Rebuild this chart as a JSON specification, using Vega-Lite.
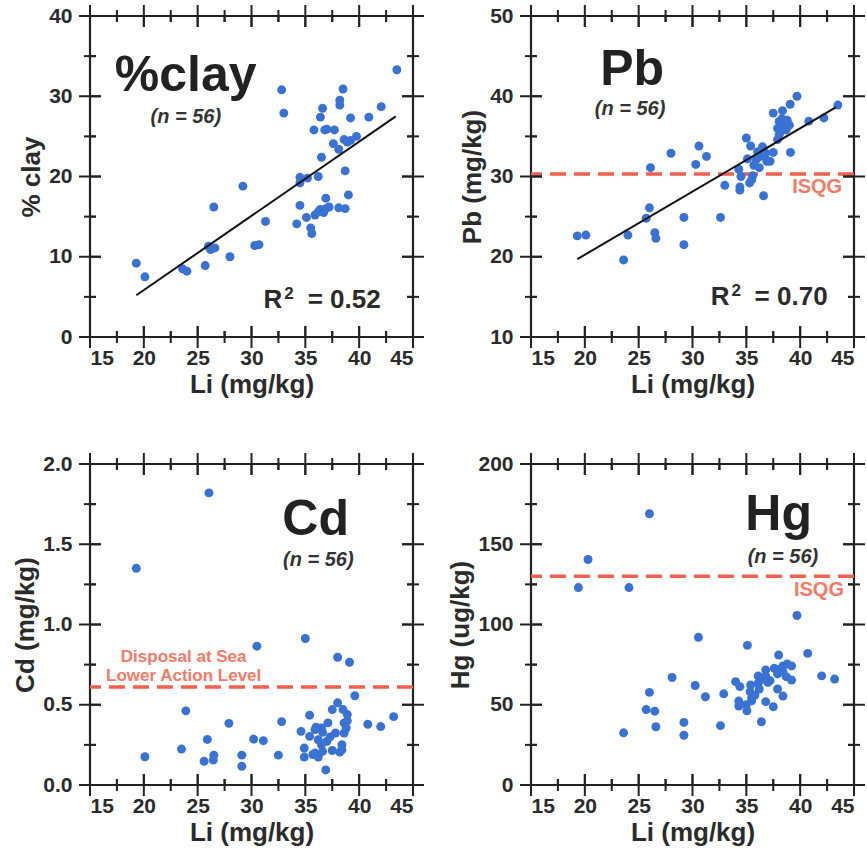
{
  "$schema": "https://vega.github.io/schema/vega-lite/v6.json",
  "background": "white",
  "padding": {"left": 11, "top": 3, "right": 5, "bottom": 5},
  "config": {
    "view": {"stroke": "#222222", "strokeWidth": 2.2},
    "axis": {
      "domain": false, "grid": false, "ticks": false, "tickSize": 0,
      "labelFont": "Liberation Sans", "labelFontWeight": "bold", "labelFontSize": 21, "labelColor": "#2b2b2b",
      "titleFont": "Liberation Sans", "titleFontWeight": "bold", "titleFontSize": 26, "titleColor": "#2b2b2b"
    },
    "tick": {"thickness": 2, "color": "#222222", "opacity": 1, "clip": true},
    "rule": {"color": "#222222", "strokeWidth": 2},
    "text": {"font": "Liberation Sans"}
  },
  "datasets": {
    "xticks": [
      {"t":15,"k":"major"},{"t":17.5,"k":"minor"},{"t":20,"k":"major"},{"t":22.5,"k":"minor"},{"t":25,"k":"major"},
      {"t":27.5,"k":"minor"},{"t":30,"k":"major"},{"t":32.5,"k":"minor"},{"t":35,"k":"major"},{"t":37.5,"k":"minor"},
      {"t":40,"k":"major"},{"t":42.5,"k":"minor"},{"t":45,"k":"major"}
    ],
    "xmaj": [{"t":20},{"t":25},{"t":30},{"t":35},{"t":40}],
    "xmin": [{"t":17.5},{"t":22.5},{"t":27.5},{"t":32.5},{"t":37.5},{"t":42.5}],
    "yclay": [
      {"t":0,"k":"major"},{"t":5,"k":"minor"},{"t":10,"k":"major"},{"t":15,"k":"minor"},{"t":20,"k":"major"},
      {"t":25,"k":"minor"},{"t":30,"k":"major"},{"t":35,"k":"minor"},{"t":40,"k":"major"}
    ],
    "ypb": [
      {"t":10,"k":"major"},{"t":15,"k":"minor"},{"t":20,"k":"major"},{"t":25,"k":"minor"},{"t":30,"k":"major"},
      {"t":35,"k":"minor"},{"t":40,"k":"major"},{"t":45,"k":"minor"},{"t":50,"k":"major"}
    ],
    "ycd": [
      {"t":0,"k":"major"},{"t":0.25,"k":"minor"},{"t":0.5,"k":"major"},{"t":0.75,"k":"minor"},{"t":1,"k":"major"},
      {"t":1.25,"k":"minor"},{"t":1.5,"k":"major"},{"t":1.75,"k":"minor"},{"t":2,"k":"major"}
    ],
    "yhg": [
      {"t":0,"k":"major"},{"t":25,"k":"minor"},{"t":50,"k":"major"},{"t":75,"k":"minor"},{"t":100,"k":"major"},
      {"t":125,"k":"minor"},{"t":150,"k":"major"},{"t":175,"k":"minor"},{"t":200,"k":"major"}
    ],
    "ymaj_clay": [{"t":10},{"t":20},{"t":30}],
    "ymin_clay": [{"t":5},{"t":15},{"t":25},{"t":35}],
    "ymaj_pb": [{"t":20},{"t":30},{"t":40}],
    "ymin_pb": [{"t":15},{"t":25},{"t":35},{"t":45}],
    "ymaj_cd": [{"t":0.5},{"t":1},{"t":1.5}],
    "ymin_cd": [{"t":0.25},{"t":0.75},{"t":1.25},{"t":1.75}],
    "ymaj_hg": [{"t":50},{"t":100},{"t":150}],
    "ymin_hg": [{"t":25},{"t":75},{"t":125},{"t":175}],
    "clay": [
      {"li":19.3,"v":9.2},{"li":20.1,"v":7.5},{"li":23.6,"v":8.5},{"li":24.0,"v":8.2},{"li":25.7,"v":8.9},
      {"li":26.0,"v":11.3},{"li":26.6,"v":11.1},{"li":26.5,"v":16.2},{"li":28.0,"v":10.0},{"li":29.2,"v":18.8},
      {"li":30.3,"v":11.4},{"li":30.7,"v":11.5},{"li":31.3,"v":14.4},{"li":32.8,"v":30.8},{"li":33.0,"v":27.9},
      {"li":43.5,"v":33.3},{"li":38.5,"v":30.9},{"li":38.2,"v":29.5},{"li":38.2,"v":28.9},{"li":36.6,"v":28.5},
      {"li":36.4,"v":27.4},{"li":39.2,"v":27.3},{"li":40.9,"v":27.4},{"li":42.05,"v":28.7},{"li":35.8,"v":25.8},
      {"li":36.8,"v":25.8},{"li":37.7,"v":25.8},{"li":37.6,"v":24.1},{"li":38.6,"v":24.6},{"li":39.2,"v":24.5},
      {"li":39.75,"v":25.0},{"li":38.1,"v":23.4},{"li":36.5,"v":22.4},{"li":38.7,"v":20.7},{"li":34.5,"v":19.9},
      {"li":34.5,"v":19.2},{"li":35.2,"v":19.8},{"li":36.2,"v":20.0},{"li":39.0,"v":17.7},{"li":36.9,"v":17.3},
      {"li":34.5,"v":16.4},{"li":37.2,"v":16.2},{"li":38.1,"v":16.1},{"li":38.7,"v":16.0},{"li":36.2,"v":15.6},
      {"li":36.7,"v":15.5},{"li":35.1,"v":14.9},{"li":34.2,"v":14.1},{"li":35.5,"v":13.6},{"li":35.6,"v":12.9},
      {"li":26.2,"v":10.9},{"li":36.4,"v":15.9},{"li":37.0,"v":25.9},{"li":38.9,"v":24.3},{"li":35.9,"v":15.2},
      {"li":36.9,"v":16.0}
    ],
    "pb": [
      {"li":19.3,"v":22.6},{"li":20.1,"v":22.7},{"li":23.6,"v":19.6},{"li":24.0,"v":22.7},{"li":25.7,"v":24.8},
      {"li":26.0,"v":26.1},{"li":26.1,"v":31.1},{"li":26.5,"v":23.0},{"li":26.6,"v":22.3},{"li":28.0,"v":32.9},
      {"li":29.2,"v":24.9},{"li":29.2,"v":21.5},{"li":30.3,"v":31.5},{"li":30.6,"v":33.8},{"li":31.3,"v":32.5},
      {"li":32.6,"v":24.9},{"li":33.0,"v":28.9},{"li":34.3,"v":30.9},{"li":34.5,"v":30.0},{"li":34.4,"v":28.7},
      {"li":34.4,"v":28.3},{"li":35.0,"v":34.8},{"li":35.4,"v":33.8},{"li":35.1,"v":32.2},{"li":35.3,"v":29.2},
      {"li":35.5,"v":29.6},{"li":35.7,"v":31.4},{"li":35.9,"v":32.1},{"li":36.05,"v":33.1},{"li":36.2,"v":31.1},
      {"li":36.5,"v":33.7},{"li":36.6,"v":27.6},{"li":36.8,"v":32.9},{"li":36.9,"v":31.9},{"li":37.5,"v":33.0},
      {"li":37.5,"v":37.9},{"li":37.9,"v":36.0},{"li":38.05,"v":36.85},{"li":38.05,"v":35.2},{"li":38.2,"v":35.6},
      {"li":38.36,"v":38.2},{"li":38.5,"v":36.6},{"li":38.7,"v":35.8},{"li":39.0,"v":36.4},{"li":39.07,"v":39.0},
      {"li":39.1,"v":33.0},{"li":39.7,"v":40.0},{"li":40.8,"v":36.9},{"li":42.2,"v":37.3},{"li":43.5,"v":38.9},
      {"li":37.2,"v":31.9},{"li":38.3,"v":37.2},{"li":36.3,"v":32.5},{"li":38.8,"v":37.0},{"li":37.9,"v":34.6},
      {"li":35.6,"v":30.1}
    ],
    "cd": [
      {"li":19.3,"v":1.35},{"li":26.05,"v":1.82},{"li":20.1,"v":0.176},{"li":23.5,"v":0.224},{"li":23.9,"v":0.462},
      {"li":25.6,"v":0.148},{"li":25.9,"v":0.284},{"li":26.5,"v":0.186},{"li":26.45,"v":0.155},{"li":27.9,"v":0.384},
      {"li":29.1,"v":0.186},{"li":29.1,"v":0.117},{"li":30.2,"v":0.286},{"li":31.1,"v":0.276},{"li":30.5,"v":0.865},
      {"li":32.5,"v":0.186},{"li":32.8,"v":0.395},{"li":35.0,"v":0.913},{"li":38.0,"v":0.796},{"li":39.1,"v":0.765},
      {"li":39.6,"v":0.556},{"li":40.8,"v":0.378},{"li":42.0,"v":0.364},{"li":43.2,"v":0.426},{"li":38.0,"v":0.512},
      {"li":37.5,"v":0.470},{"li":38.5,"v":0.470},{"li":38.9,"v":0.439},{"li":35.4,"v":0.435},{"li":38.6,"v":0.387},
      {"li":38.8,"v":0.355},{"li":37.1,"v":0.387},{"li":36.5,"v":0.355},{"li":34.6,"v":0.334},{"li":35.9,"v":0.345},
      {"li":35.4,"v":0.303},{"li":36.6,"v":0.328},{"li":37.8,"v":0.324},{"li":38.6,"v":0.324},{"li":36.2,"v":0.282},
      {"li":37.0,"v":0.272},{"li":36.5,"v":0.251},{"li":38.4,"v":0.251},{"li":34.9,"v":0.230},{"li":35.9,"v":0.199},
      {"li":36.6,"v":0.209},{"li":37.5,"v":0.215},{"li":38.4,"v":0.219},{"li":34.9,"v":0.174},{"li":36.2,"v":0.174},
      {"li":36.9,"v":0.094},{"li":38.2,"v":0.205},{"li":36.0,"v":0.36},{"li":37.3,"v":0.30},{"li":35.7,"v":0.19},
      {"li":38.9,"v":0.40}
    ],
    "hg": [
      {"li":19.4,"v":123},{"li":20.3,"v":140.5},{"li":24.1,"v":123},{"li":26.0,"v":169},{"li":23.6,"v":32.5},
      {"li":25.7,"v":47},{"li":26.0,"v":57.7},{"li":26.5,"v":46},{"li":26.6,"v":36.3},{"li":28.1,"v":67},
      {"li":29.2,"v":39},{"li":29.2,"v":31},{"li":30.25,"v":62},{"li":30.55,"v":92},{"li":31.2,"v":55},
      {"li":32.6,"v":37},{"li":32.9,"v":56.8},{"li":35.1,"v":87},{"li":39.7,"v":105.6},{"li":40.7,"v":82},
      {"li":42.0,"v":68},{"li":43.2,"v":66},{"li":38.0,"v":81},{"li":38.8,"v":75.4},{"li":39.2,"v":74.2},
      {"li":38.4,"v":74.2},{"li":37.6,"v":72.7},{"li":36.8,"v":71.7},{"li":36.1,"v":67.9},{"li":36.8,"v":67.9},
      {"li":37.9,"v":69.2},{"li":38.4,"v":70.6},{"li":39.2,"v":65.4},{"li":38.7,"v":67.5},{"li":34.0,"v":64.4},
      {"li":34.4,"v":61.3},{"li":35.4,"v":62.3},{"li":36.1,"v":63.3},{"li":37.0,"v":63.9},{"li":35.35,"v":58.1},
      {"li":36.2,"v":59.8},{"li":37.9,"v":59.8},{"li":38.4,"v":55.4},{"li":35.5,"v":54.4},{"li":34.3,"v":52.3},
      {"li":34.3,"v":49.2},{"li":35.5,"v":52.5},{"li":36.8,"v":51.9},{"li":37.5,"v":48.75},{"li":35.05,"v":46.25},
      {"li":36.4,"v":39.4},{"li":36.5,"v":66},{"li":35.8,"v":56},{"li":38.1,"v":72},{"li":37.2,"v":65},
      {"li":35.0,"v":50}
    ]
  },
  "columns": 2,
  "spacing": {"row": 127, "column": 118},
  "bounds": "flush",
  "concat": [
    {
      "width": 323, "height": 321,
      "resolve": {"axis": {"x": "independent", "y": "independent"}},
      "layer": [
        {
          "data": {"name": "clay"},
          "mark": {"type": "circle", "size": 80, "color": "#3a72d4", "opacity": 1},
          "encoding": {
            "x": {"field": "li", "type": "quantitative", "scale": {"domain": [15, 45], "nice": false, "zero": false},
              "axis": {"orient": "bottom", "title": "Li (mg/kg)", "values": [15,20,25,30,35,40,45], "labelPadding": 10, "titlePadding": 3}},
            "y": {"field": "v", "type": "quantitative", "scale": {"domain": [0, 40], "nice": false, "zero": false},
              "axis": {"orient": "left", "title": "% clay", "values": [0,10,20,30,40], "labelPadding": 18, "titlePadding": 4}}
          }
        },
        {"data": {"name": "xmaj"}, "mark": "rule", "encoding": {"x": {"field": "t", "type": "quantitative", "axis": null}, "y": {"datum": 0, "axis": null}, "y2": {"datum": 1.37}}},
        {"data": {"name": "xmin"}, "mark": "rule", "encoding": {"x": {"field": "t", "type": "quantitative", "axis": null}, "y": {"datum": 0, "axis": null}, "y2": {"datum": 0.75}}},
        {"data": {"name": "xmaj"}, "mark": "rule", "encoding": {"x": {"field": "t", "type": "quantitative", "axis": null}, "y": {"datum": 40, "axis": null}, "y2": {"datum": 38.63}}},
        {"data": {"name": "xmin"}, "mark": "rule", "encoding": {"x": {"field": "t", "type": "quantitative", "axis": null}, "y": {"datum": 40, "axis": null}, "y2": {"datum": 39.25}}},
        {"data": {"name": "ymaj_clay"}, "mark": "rule", "encoding": {"y": {"field": "t", "type": "quantitative", "axis": null}, "x": {"datum": 15, "axis": null}, "x2": {"datum": 16.02}}},
        {"data": {"name": "ymin_clay"}, "mark": "rule", "encoding": {"y": {"field": "t", "type": "quantitative", "axis": null}, "x": {"datum": 15, "axis": null}, "x2": {"datum": 15.56}}},
        {"data": {"name": "ymaj_clay"}, "mark": "rule", "encoding": {"y": {"field": "t", "type": "quantitative", "axis": null}, "x": {"datum": 45, "axis": null}, "x2": {"datum": 43.98}}},
        {"data": {"name": "ymin_clay"}, "mark": "rule", "encoding": {"y": {"field": "t", "type": "quantitative", "axis": null}, "x": {"datum": 45, "axis": null}, "x2": {"datum": 44.44}}},
        {"data": {"name": "xticks"}, "mark": {"type": "tick", "orient": "vertical"},
          "encoding": {"x": {"field": "t", "type": "quantitative", "axis": null}, "y": {"datum": 0, "type": "quantitative", "axis": null},
            "size": {"field": "k", "type": "nominal", "scale": {"domain": ["major", "minor"], "range": [22, 12]}, "legend": null}}},
        {"data": {"name": "xticks"}, "mark": {"type": "tick", "orient": "vertical"},
          "encoding": {"x": {"field": "t", "type": "quantitative", "axis": null}, "y": {"datum": 40, "type": "quantitative", "axis": null},
            "size": {"field": "k", "type": "nominal", "scale": {"domain": ["major", "minor"], "range": [22, 12]}, "legend": null}}},
        {"data": {"name": "yclay"}, "mark": {"type": "tick", "orient": "horizontal"},
          "encoding": {"y": {"field": "t", "type": "quantitative", "axis": null}, "x": {"datum": 15, "type": "quantitative", "axis": null},
            "size": {"field": "k", "type": "nominal", "scale": {"domain": ["major", "minor"], "range": [22, 12]}, "legend": null}}},
        {"data": {"name": "yclay"}, "mark": {"type": "tick", "orient": "horizontal"},
          "encoding": {"y": {"field": "t", "type": "quantitative", "axis": null}, "x": {"datum": 45, "type": "quantitative", "axis": null},
            "size": {"field": "k", "type": "nominal", "scale": {"domain": ["major", "minor"], "range": [22, 12]}, "legend": null}}},
        {
          "data": {"values": [{"li": 19.3, "v": 5.2}, {"li": 43.4, "v": 27.5}]},
          "mark": {"type": "line", "color": "#111111", "strokeWidth": 2},
          "encoding": {
            "x": {"field": "li", "type": "quantitative", "axis": null},
            "y": {"field": "v", "type": "quantitative", "axis": null}
          }
        },
        {
          "data": {"values": [{"label": "%clay"}]},
          "mark": {"type": "text", "align": "left", "baseline": "alphabetic", "fontSize": 50, "fontWeight": "bold", "color": "#222222"},
          "encoding": {"x": {"datum": 17.3, "axis": null}, "y": {"datum": 30.7, "axis": null}, "text": {"field": "label"}}
        },
        {
          "data": {"values": [{"label": "(n = 56)"}]},
          "mark": {"type": "text", "align": "center", "baseline": "alphabetic", "fontSize": 20, "fontWeight": "bold", "fontStyle": "italic", "color": "#333333"},
          "encoding": {"x": {"datum": 23.9, "axis": null}, "y": {"datum": 26.7, "axis": null}, "text": {"field": "label"}}
        },
        {
          "data": {"values": [{"label": "R"}]},
          "mark": {"type": "text", "align": "right", "baseline": "alphabetic", "fontSize": 26, "fontWeight": "bold", "color": "#2b2b2b"},
          "encoding": {"x": {"datum": 32.85, "axis": null}, "y": {"datum": 3.64, "axis": null}, "text": {"field": "label"}}
        },
        {
          "data": {"values": [{"label": "2"}]},
          "mark": {"type": "text", "align": "left", "baseline": "alphabetic", "fontSize": 17, "fontWeight": "bold", "color": "#2b2b2b"},
          "encoding": {"x": {"datum": 33.05, "axis": null}, "y": {"datum": 4.68, "axis": null}, "text": {"field": "label"}}
        },
        {
          "data": {"values": [{"label": "= 0.52"}]},
          "mark": {"type": "text", "align": "right", "baseline": "alphabetic", "fontSize": 26, "fontWeight": "bold", "color": "#2b2b2b"},
          "encoding": {"x": {"datum": 42.0, "axis": null}, "y": {"datum": 3.64, "axis": null}, "text": {"field": "label"}}
        }
      ]
    },
    {
      "width": 323, "height": 321,
      "resolve": {"axis": {"x": "independent", "y": "independent"}},
      "layer": [
        {
          "data": {"values": [{"v": 30.3}]},
          "mark": {"type": "rule", "color": "#f2604f", "strokeWidth": 3.5, "strokeDash": [16, 8]},
          "encoding": {"y": {"field": "v", "type": "quantitative", "axis": null}}
        },
        {
          "data": {"name": "pb"},
          "mark": {"type": "circle", "size": 80, "color": "#3a72d4", "opacity": 1},
          "encoding": {
            "x": {"field": "li", "type": "quantitative", "scale": {"domain": [15, 45], "nice": false, "zero": false},
              "axis": {"orient": "bottom", "title": "Li (mg/kg)", "values": [15,20,25,30,35,40,45], "labelPadding": 10, "titlePadding": 3}},
            "y": {"field": "v", "type": "quantitative", "scale": {"domain": [10, 50], "nice": false, "zero": false},
              "axis": {"orient": "left", "title": "Pb (mg/kg)", "values": [10,20,30,40,50], "labelPadding": 18, "titlePadding": 4}}
          }
        },
        {"data": {"name": "xmaj"}, "mark": "rule", "encoding": {"x": {"field": "t", "type": "quantitative", "axis": null}, "y": {"datum": 10, "axis": null}, "y2": {"datum": 11.37}}},
        {"data": {"name": "xmin"}, "mark": "rule", "encoding": {"x": {"field": "t", "type": "quantitative", "axis": null}, "y": {"datum": 10, "axis": null}, "y2": {"datum": 10.75}}},
        {"data": {"name": "xmaj"}, "mark": "rule", "encoding": {"x": {"field": "t", "type": "quantitative", "axis": null}, "y": {"datum": 50, "axis": null}, "y2": {"datum": 48.63}}},
        {"data": {"name": "xmin"}, "mark": "rule", "encoding": {"x": {"field": "t", "type": "quantitative", "axis": null}, "y": {"datum": 50, "axis": null}, "y2": {"datum": 49.25}}},
        {"data": {"name": "ymaj_pb"}, "mark": "rule", "encoding": {"y": {"field": "t", "type": "quantitative", "axis": null}, "x": {"datum": 15, "axis": null}, "x2": {"datum": 16.02}}},
        {"data": {"name": "ymin_pb"}, "mark": "rule", "encoding": {"y": {"field": "t", "type": "quantitative", "axis": null}, "x": {"datum": 15, "axis": null}, "x2": {"datum": 15.56}}},
        {"data": {"name": "ymaj_pb"}, "mark": "rule", "encoding": {"y": {"field": "t", "type": "quantitative", "axis": null}, "x": {"datum": 45, "axis": null}, "x2": {"datum": 43.98}}},
        {"data": {"name": "ymin_pb"}, "mark": "rule", "encoding": {"y": {"field": "t", "type": "quantitative", "axis": null}, "x": {"datum": 45, "axis": null}, "x2": {"datum": 44.44}}},
        {"data": {"name": "xticks"}, "mark": {"type": "tick", "orient": "vertical"},
          "encoding": {"x": {"field": "t", "type": "quantitative", "axis": null}, "y": {"datum": 10, "type": "quantitative", "axis": null},
            "size": {"field": "k", "type": "nominal", "scale": {"domain": ["major", "minor"], "range": [22, 12]}, "legend": null}}},
        {"data": {"name": "xticks"}, "mark": {"type": "tick", "orient": "vertical"},
          "encoding": {"x": {"field": "t", "type": "quantitative", "axis": null}, "y": {"datum": 50, "type": "quantitative", "axis": null},
            "size": {"field": "k", "type": "nominal", "scale": {"domain": ["major", "minor"], "range": [22, 12]}, "legend": null}}},
        {"data": {"name": "ypb"}, "mark": {"type": "tick", "orient": "horizontal"},
          "encoding": {"y": {"field": "t", "type": "quantitative", "axis": null}, "x": {"datum": 15, "type": "quantitative", "axis": null},
            "size": {"field": "k", "type": "nominal", "scale": {"domain": ["major", "minor"], "range": [22, 12]}, "legend": null}}},
        {"data": {"name": "ypb"}, "mark": {"type": "tick", "orient": "horizontal"},
          "encoding": {"y": {"field": "t", "type": "quantitative", "axis": null}, "x": {"datum": 45, "type": "quantitative", "axis": null},
            "size": {"field": "k", "type": "nominal", "scale": {"domain": ["major", "minor"], "range": [22, 12]}, "legend": null}}},
        {
          "data": {"values": [{"li": 19.3, "v": 19.7}, {"li": 43.3, "v": 38.6}]},
          "mark": {"type": "line", "color": "#111111", "strokeWidth": 2},
          "encoding": {
            "x": {"field": "li", "type": "quantitative", "axis": null},
            "y": {"field": "v", "type": "quantitative", "axis": null}
          }
        },
        {
          "data": {"values": [{"label": "Pb"}]},
          "mark": {"type": "text", "align": "center", "baseline": "alphabetic", "fontSize": 50, "fontWeight": "bold", "color": "#222222"},
          "encoding": {"x": {"datum": 24.4, "axis": null}, "y": {"datum": 41.4, "axis": null}, "text": {"field": "label"}}
        },
        {
          "data": {"values": [{"label": "(n = 56)"}]},
          "mark": {"type": "text", "align": "center", "baseline": "alphabetic", "fontSize": 20, "fontWeight": "bold", "fontStyle": "italic", "color": "#333333"},
          "encoding": {"x": {"datum": 24.2, "axis": null}, "y": {"datum": 37.7, "axis": null}, "text": {"field": "label"}}
        },
        {
          "data": {"values": [{"label": "R"}]},
          "mark": {"type": "text", "align": "right", "baseline": "alphabetic", "fontSize": 26, "fontWeight": "bold", "color": "#2b2b2b"},
          "encoding": {"x": {"datum": 33.45, "axis": null}, "y": {"datum": 13.99, "axis": null}, "text": {"field": "label"}}
        },
        {
          "data": {"values": [{"label": "2"}]},
          "mark": {"type": "text", "align": "left", "baseline": "alphabetic", "fontSize": 17, "fontWeight": "bold", "color": "#2b2b2b"},
          "encoding": {"x": {"datum": 33.62, "axis": null}, "y": {"datum": 15.05, "axis": null}, "text": {"field": "label"}}
        },
        {
          "data": {"values": [{"label": "= 0.70"}]},
          "mark": {"type": "text", "align": "right", "baseline": "alphabetic", "fontSize": 26, "fontWeight": "bold", "color": "#2b2b2b"},
          "encoding": {"x": {"datum": 42.55, "axis": null}, "y": {"datum": 13.99, "axis": null}, "text": {"field": "label"}}
        },
        {
          "data": {"values": [{"label": "ISQG"}]},
          "mark": {"type": "text", "align": "right", "baseline": "alphabetic", "fontSize": 20, "fontWeight": "bold", "color": "#f47a68"},
          "encoding": {"x": {"datum": 43.9, "axis": null}, "y": {"datum": 28.0, "axis": null}, "text": {"field": "label"}}
        }
      ]
    },
    {
      "width": 323, "height": 321,
      "resolve": {"axis": {"x": "independent", "y": "independent"}},
      "layer": [
        {
          "data": {"values": [{"v": 0.61}]},
          "mark": {"type": "rule", "color": "#f2604f", "strokeWidth": 3.5, "strokeDash": [16, 8]},
          "encoding": {"y": {"field": "v", "type": "quantitative", "axis": null}}
        },
        {
          "data": {"name": "cd"},
          "mark": {"type": "circle", "size": 80, "color": "#3a72d4", "opacity": 1},
          "encoding": {
            "x": {"field": "li", "type": "quantitative", "scale": {"domain": [15, 45], "nice": false, "zero": false},
              "axis": {"orient": "bottom", "title": "Li (mg/kg)", "values": [15,20,25,30,35,40,45], "labelPadding": 10, "titlePadding": 3}},
            "y": {"field": "v", "type": "quantitative", "scale": {"domain": [0, 2], "nice": false, "zero": false},
              "axis": {"orient": "left", "title": "Cd (mg/kg)", "values": [0,0.5,1,1.5,2], "format": ".1f", "labelPadding": 18, "titlePadding": 4}}
          }
        },
        {"data": {"name": "xmaj"}, "mark": "rule", "encoding": {"x": {"field": "t", "type": "quantitative", "axis": null}, "y": {"datum": 0, "axis": null}, "y2": {"datum": 0.0685}}},
        {"data": {"name": "xmin"}, "mark": "rule", "encoding": {"x": {"field": "t", "type": "quantitative", "axis": null}, "y": {"datum": 0, "axis": null}, "y2": {"datum": 0.0374}}},
        {"data": {"name": "xmaj"}, "mark": "rule", "encoding": {"x": {"field": "t", "type": "quantitative", "axis": null}, "y": {"datum": 2, "axis": null}, "y2": {"datum": 1.9315}}},
        {"data": {"name": "xmin"}, "mark": "rule", "encoding": {"x": {"field": "t", "type": "quantitative", "axis": null}, "y": {"datum": 2, "axis": null}, "y2": {"datum": 1.9626}}},
        {"data": {"name": "ymaj_cd"}, "mark": "rule", "encoding": {"y": {"field": "t", "type": "quantitative", "axis": null}, "x": {"datum": 15, "axis": null}, "x2": {"datum": 16.02}}},
        {"data": {"name": "ymin_cd"}, "mark": "rule", "encoding": {"y": {"field": "t", "type": "quantitative", "axis": null}, "x": {"datum": 15, "axis": null}, "x2": {"datum": 15.56}}},
        {"data": {"name": "ymaj_cd"}, "mark": "rule", "encoding": {"y": {"field": "t", "type": "quantitative", "axis": null}, "x": {"datum": 45, "axis": null}, "x2": {"datum": 43.98}}},
        {"data": {"name": "ymin_cd"}, "mark": "rule", "encoding": {"y": {"field": "t", "type": "quantitative", "axis": null}, "x": {"datum": 45, "axis": null}, "x2": {"datum": 44.44}}},
        {"data": {"name": "xticks"}, "mark": {"type": "tick", "orient": "vertical"},
          "encoding": {"x": {"field": "t", "type": "quantitative", "axis": null}, "y": {"datum": 0, "type": "quantitative", "axis": null},
            "size": {"field": "k", "type": "nominal", "scale": {"domain": ["major", "minor"], "range": [22, 12]}, "legend": null}}},
        {"data": {"name": "xticks"}, "mark": {"type": "tick", "orient": "vertical"},
          "encoding": {"x": {"field": "t", "type": "quantitative", "axis": null}, "y": {"datum": 2, "type": "quantitative", "axis": null},
            "size": {"field": "k", "type": "nominal", "scale": {"domain": ["major", "minor"], "range": [22, 12]}, "legend": null}}},
        {"data": {"name": "ycd"}, "mark": {"type": "tick", "orient": "horizontal"},
          "encoding": {"y": {"field": "t", "type": "quantitative", "axis": null}, "x": {"datum": 15, "type": "quantitative", "axis": null},
            "size": {"field": "k", "type": "nominal", "scale": {"domain": ["major", "minor"], "range": [22, 12]}, "legend": null}}},
        {"data": {"name": "ycd"}, "mark": {"type": "tick", "orient": "horizontal"},
          "encoding": {"y": {"field": "t", "type": "quantitative", "axis": null}, "x": {"datum": 45, "type": "quantitative", "axis": null},
            "size": {"field": "k", "type": "nominal", "scale": {"domain": ["major", "minor"], "range": [22, 12]}, "legend": null}}},
        {
          "data": {"values": [{"label": "Cd"}]},
          "mark": {"type": "text", "align": "center", "baseline": "alphabetic", "fontSize": 50, "fontWeight": "bold", "color": "#222222"},
          "encoding": {"x": {"datum": 35.96, "axis": null}, "y": {"datum": 1.555, "axis": null}, "text": {"field": "label"}}
        },
        {
          "data": {"values": [{"label": "(n = 56)"}]},
          "mark": {"type": "text", "align": "center", "baseline": "alphabetic", "fontSize": 20, "fontWeight": "bold", "fontStyle": "italic", "color": "#333333"},
          "encoding": {"x": {"datum": 36.2, "axis": null}, "y": {"datum": 1.367, "axis": null}, "text": {"field": "label"}}
        },
        {
          "data": {"values": [{"label": "Disposal at Sea\nLower Action Level"}]},
          "mark": {"type": "text", "align": "center", "baseline": "alphabetic", "fontSize": 17, "fontWeight": "bold", "color": "#f47a68", "lineBreak": "\n", "lineHeight": 19},
          "encoding": {"x": {"datum": 23.7, "axis": null}, "y": {"datum": 0.765, "axis": null}, "text": {"field": "label"}}
        }
      ]
    },
    {
      "width": 323, "height": 321,
      "resolve": {"axis": {"x": "independent", "y": "independent"}},
      "layer": [
        {
          "data": {"values": [{"v": 130}]},
          "mark": {"type": "rule", "color": "#f2604f", "strokeWidth": 3.5, "strokeDash": [16, 8]},
          "encoding": {"y": {"field": "v", "type": "quantitative", "axis": null}}
        },
        {
          "data": {"name": "hg"},
          "mark": {"type": "circle", "size": 80, "color": "#3a72d4", "opacity": 1},
          "encoding": {
            "x": {"field": "li", "type": "quantitative", "scale": {"domain": [15, 45], "nice": false, "zero": false},
              "axis": {"orient": "bottom", "title": "Li (mg/kg)", "values": [15,20,25,30,35,40,45], "labelPadding": 10, "titlePadding": 3}},
            "y": {"field": "v", "type": "quantitative", "scale": {"domain": [0, 200], "nice": false, "zero": false},
              "axis": {"orient": "left", "title": "Hg (ug/kg)", "values": [0,50,100,150,200], "labelPadding": 18, "titlePadding": 4}}
          }
        },
        {"data": {"name": "xmaj"}, "mark": "rule", "encoding": {"x": {"field": "t", "type": "quantitative", "axis": null}, "y": {"datum": 0, "axis": null}, "y2": {"datum": 6.85}}},
        {"data": {"name": "xmin"}, "mark": "rule", "encoding": {"x": {"field": "t", "type": "quantitative", "axis": null}, "y": {"datum": 0, "axis": null}, "y2": {"datum": 3.74}}},
        {"data": {"name": "xmaj"}, "mark": "rule", "encoding": {"x": {"field": "t", "type": "quantitative", "axis": null}, "y": {"datum": 200, "axis": null}, "y2": {"datum": 193.15}}},
        {"data": {"name": "xmin"}, "mark": "rule", "encoding": {"x": {"field": "t", "type": "quantitative", "axis": null}, "y": {"datum": 200, "axis": null}, "y2": {"datum": 196.26}}},
        {"data": {"name": "ymaj_hg"}, "mark": "rule", "encoding": {"y": {"field": "t", "type": "quantitative", "axis": null}, "x": {"datum": 15, "axis": null}, "x2": {"datum": 16.02}}},
        {"data": {"name": "ymin_hg"}, "mark": "rule", "encoding": {"y": {"field": "t", "type": "quantitative", "axis": null}, "x": {"datum": 15, "axis": null}, "x2": {"datum": 15.56}}},
        {"data": {"name": "ymaj_hg"}, "mark": "rule", "encoding": {"y": {"field": "t", "type": "quantitative", "axis": null}, "x": {"datum": 45, "axis": null}, "x2": {"datum": 43.98}}},
        {"data": {"name": "ymin_hg"}, "mark": "rule", "encoding": {"y": {"field": "t", "type": "quantitative", "axis": null}, "x": {"datum": 45, "axis": null}, "x2": {"datum": 44.44}}},
        {"data": {"name": "xticks"}, "mark": {"type": "tick", "orient": "vertical"},
          "encoding": {"x": {"field": "t", "type": "quantitative", "axis": null}, "y": {"datum": 0, "type": "quantitative", "axis": null},
            "size": {"field": "k", "type": "nominal", "scale": {"domain": ["major", "minor"], "range": [22, 12]}, "legend": null}}},
        {"data": {"name": "xticks"}, "mark": {"type": "tick", "orient": "vertical"},
          "encoding": {"x": {"field": "t", "type": "quantitative", "axis": null}, "y": {"datum": 200, "type": "quantitative", "axis": null},
            "size": {"field": "k", "type": "nominal", "scale": {"domain": ["major", "minor"], "range": [22, 12]}, "legend": null}}},
        {"data": {"name": "yhg"}, "mark": {"type": "tick", "orient": "horizontal"},
          "encoding": {"y": {"field": "t", "type": "quantitative", "axis": null}, "x": {"datum": 15, "type": "quantitative", "axis": null},
            "size": {"field": "k", "type": "nominal", "scale": {"domain": ["major", "minor"], "range": [22, 12]}, "legend": null}}},
        {"data": {"name": "yhg"}, "mark": {"type": "tick", "orient": "horizontal"},
          "encoding": {"y": {"field": "t", "type": "quantitative", "axis": null}, "x": {"datum": 45, "type": "quantitative", "axis": null},
            "size": {"field": "k", "type": "nominal", "scale": {"domain": ["major", "minor"], "range": [22, 12]}, "legend": null}}},
        {
          "data": {"values": [{"label": "Hg"}]},
          "mark": {"type": "text", "align": "center", "baseline": "alphabetic", "fontSize": 50, "fontWeight": "bold", "color": "#222222"},
          "encoding": {"x": {"datum": 38.0, "axis": null}, "y": {"datum": 159, "axis": null}, "text": {"field": "label"}}
        },
        {
          "data": {"values": [{"label": "(n = 56)"}]},
          "mark": {"type": "text", "align": "center", "baseline": "alphabetic", "fontSize": 20, "fontWeight": "bold", "fontStyle": "italic", "color": "#333333"},
          "encoding": {"x": {"datum": 38.4, "axis": null}, "y": {"datum": 138.3, "axis": null}, "text": {"field": "label"}}
        },
        {
          "data": {"values": [{"label": "ISQG"}]},
          "mark": {"type": "text", "align": "right", "baseline": "alphabetic", "fontSize": 20, "fontWeight": "bold", "color": "#f47a68"},
          "encoding": {"x": {"datum": 44.07, "axis": null}, "y": {"datum": 117.9, "axis": null}, "text": {"field": "label"}}
        }
      ]
    }
  ]
}
